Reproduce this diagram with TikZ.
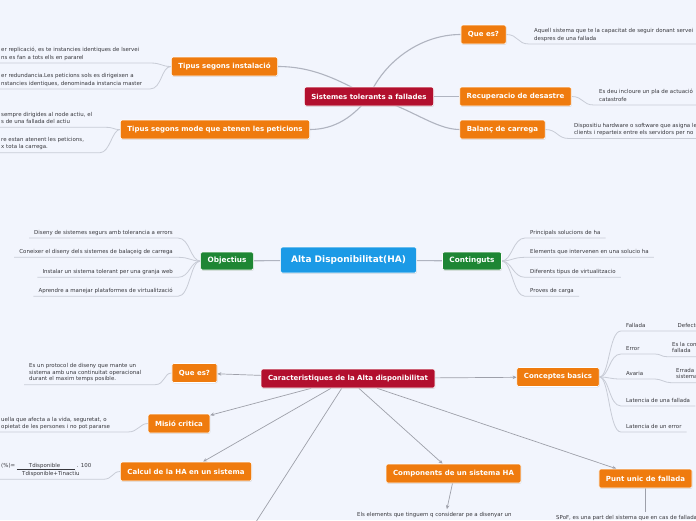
\documentclass[tikz,border=0pt]{standalone}
\usepackage{fontspec}
\setmainfont{DejaVu Sans}
\usepackage{tikz}
\usetikzlibrary{positioning,arrows.meta,backgrounds,shadows}
\definecolor{pagebg}{RGB}{242,245,253}
\definecolor{orangeb}{RGB}{239,123,14}
\definecolor{crimson}{RGB}{178,15,46}
\definecolor{skyb}{RGB}{27,154,230}
\definecolor{greenb}{RGB}{30,134,52}
\definecolor{branchgray}{RGB}{176,180,192}
\definecolor{twiggray}{RGB}{200,204,214}
\definecolor{linkgray}{RGB}{158,160,170}
\definecolor{leaftext}{RGB}{55,55,60}

\tikzset{
  topic/.style={rounded corners=2pt, draw=white, line width=0.6pt, text=white,
    font=\fontsize{7}{8}\selectfont\bfseries, inner xsep=7pt, minimum height=19pt,
    drop shadow={shadow xshift=0.5pt, shadow yshift=-0.8pt, opacity=0.25}},
  orangebox/.style={topic, fill=orangeb},
  redbox/.style={topic, fill=crimson},
  greenbox/.style={topic, fill=greenb, minimum height=18pt,
    font=\fontsize{7.3}{8}\selectfont\bfseries},
  bluebox/.style={topic, fill=skyb, minimum height=26pt, inner xsep=10.5pt,
    font=\fontsize{9}{10}\selectfont\bfseries},
  leaf/.style={font=\fontsize{5.45}{6.5}\selectfont, text=leaftext, align=left,
    inner xsep=5pt, inner ysep=2.5pt, text depth=1.2pt},
  leafwide/.style={leaf, font=\fontsize{5.45}{7.3}\selectfont},
  branch/.style={draw=branchgray, line width=1.1pt},
  twig/.style={draw=twiggray, line width=0.8pt},
  link/.style={draw=linkgray, line width=0.7pt, -{Stealth[length=4pt,width=3.5pt]}},
}

\begin{document}
\begin{tikzpicture}[x=1pt,y=-1pt]
  \useasboundingbox (0,0) rectangle (696,520);
  \begin{scope}[on background layer]
    \fill[pagebg] (0,0) rectangle (696,520);
  \end{scope}
  \clip (0,0) rectangle (696,520);

  % fault tolerant systems
  \node[redbox] (sis) at (369,96.5) {Sistemes tolerants a fallades};
  \node[orangebox] (inst) at (224.5,66.5) {Tipus segons instalació};
  \node[orangebox] (mode) at (215,129.5) {Tipus segons mode que atenen les peticions};
  \node[orangebox] (quees1) at (483.5,34.5) {Que es?};
  \node[orangebox] (recup) at (515.5,96.5) {Recuperacio de desastre};
  \node[orangebox] (bal) at (502.5,129.5) {Balanç de carrega};

  \node[leafwide, anchor=south west] (t1) at (-4,63) {er replicació, es te instancies identiques de lservei\\ns es fan a tots ells en pararel};
  \node[leafwide, anchor=south west] (t2) at (-4,89) {er redundancia.Les peticions sols es dirigeixen a\\nstancies identiques, denominada instancia master};
  \node[leafwide, anchor=south west] (t3) at (-4,127.3) {sempre dirigides al node actiu, el\\s de una fallada del actiu};
  \node[leafwide, anchor=south west] (t4) at (-4,152.7) {re estan atenent les peticions,\\x tota la carrega.};
  \node[leafwide, anchor=south west] (r1) at (529,44) {Aquell sistema que te la capacitat de seguir donant servei\\despres de una fallada};
  \node[leafwide, anchor=south west] (r2) at (594,105) {Es deu incloure un pla de actuació\\catastrofe};
  \node[leafwide, anchor=south west] (r3) at (569,138.5) {Dispositiu hardware o software que asigna les\\clients i reparteix entre els servidors per no};

  % central topic
  \node[bluebox] (ha) at (348.5,260) {Alta Disponibilitat(HA)};
  \node[greenbox] (obj) at (227,261) {Objectius};
  \node[greenbox] (cont) at (472,261) {Continguts};

  \node[leaf, anchor=south east] (o1) at (178,238) {Diseny de sistemes segurs amb tolerancia a errors};
  \node[leaf, anchor=south east] (o2) at (178,257.3) {Coneixer el diseny dels sistemes de balaçeig de carrega};
  \node[leaf, anchor=south east] (o3) at (178,277.3) {Instalar un sistema tolerant per una granja web};
  \node[leaf, anchor=south east] (o4) at (178,296.3) {Aprendre a manejar plataformes de virtualització};
  \node[leaf, anchor=south west] (c1) at (525,238) {Principals solucions de ha};
  \node[leaf, anchor=south west] (c2) at (525,257.3) {Elements que intervenen en una solucio ha};
  \node[leaf, anchor=south west] (c3) at (525,277.3) {Diferents tipus de virtualitzacio};
  \node[leaf, anchor=south west] (c4) at (525,296.3) {Proves de carga};

  % characteristics
  \node[redbox] (car) at (348,378.5) {Caracteristiques de la Alta disponibilitat};
  \node[orangebox] (quees2) at (194.5,373) {Que es?};
  \node[orangebox] (misio) at (179,423.5) {Misió critica};
  \node[orangebox] (calc) at (186,471.5) {Calcul de la HA en un sistema};
  \node[orangebox] (conc) at (558,377) {Conceptes basics};
  \node[orangebox] (comp) at (453.5,473.5) {Components de un sistema HA};
  \node[orangebox] (punt) at (645.5,478.5) {Punt unic de fallada};
  \coordinate (down) at (231.5,560);

  \node[leaf, anchor=south west] (q2t) at (24,384.7) {Es un protocol de diseny que mante un\\sistema amb una continuitat operacional\\durant el maxim temps posible.};
  \node[leaf, anchor=south west] (mct) at (-4,432) {uella que afecta a la vida, seguretat, o\\opietat de les persones i no pot pararse};
  \node[leaf, anchor=south west] (calt) at (-4,479.3) {(\%)= \underline{\hspace{12pt}Tdisponible\hspace{15pt}} . 100\\\hspace{21pt}Tdisponible+Tinactiu};
  \node[leaf, anchor=base west] (compt) at (352,516) {Els elements que tinguem q considerar pe a disenyar un};
  \node[leaf, anchor=base west] (puntt) at (551,519) {SPoF, es una part del sistema que en cas de fallada};

  \node[leaf, anchor=south west] (k1) at (621,331) {Fallada};
  \node[leaf, anchor=south west] (k1b) at (672.5,331) {Defecte};
  \node[leaf, anchor=south west] (k2) at (621,354) {Error};
  \node[leaf, anchor=south west] (k2b) at (667,356.7) {Es la con\\fallada};
  \node[leaf, anchor=south west] (k3) at (621,379) {Avaria};
  \node[leaf, anchor=south west] (k3b) at (671,382.7) {Errada -\\sistema};
  \node[leaf, anchor=south west] (k4) at (621,406) {Latencia de una fallada};
  \node[leaf, anchor=south west] (k5) at (621,432) {Latencia de un error};

  \begin{scope}[on background layer]
    \clip (0,0) rectangle (696,520);
    \draw[branch] (inst.east) .. controls +(32,0) and +(-34,-19) .. (sis.center);
    \draw[branch] (mode.east) .. controls +(25,0) and +(-15,20) .. (sis.center);
    \draw[branch] (sis.center) .. controls +(15,-35) and +(-40,0) .. (quees1.west);
    \draw[branch] (sis) -- (recup);
    \draw[branch] (sis.center) .. controls +(40,10) and +(-25,0) .. (bal.west);

    \draw[twig] (t1.south west) -- ++(154,0) .. controls +(12,0) and +(-10,0) .. (inst.west);
    \draw[twig] (t2.south west) -- ++(154,0) .. controls +(12,0) and +(-10,0) .. (inst.west);
    \draw[twig] (t3.south west) -- ++(109,0) .. controls +(10,0) and +(-8,0) .. (mode.west);
    \draw[twig] (t4.south west) -- ++(104,0) .. controls +(10,0) and +(-8,0) .. (mode.west);
    \draw[twig] (quees1.east) .. controls +(12,0) and +(-12,0) .. (r1.south west) -- ++(170,0);
    \draw[twig] (recup.east) .. controls +(12,0) and +(-12,0) .. (r2.south west) -- ++(110,0);
    \draw[twig] (bal.east) .. controls +(12,0) and +(-12,0) .. (r3.south west) -- ++(130,0);

    \draw[branch] (obj) -- (ha);
    \draw[branch] (ha) -- (cont);
    \foreach \n in {o1,o2,o3,o4}
      \draw[twig] (\n.south west) -- (\n.south east) .. controls +(12,0) and +(-10,0) .. (obj.west);
    \foreach \n in {c1,c2,c3,c4}
      \draw[twig] (cont.east) .. controls +(10,0) and +(-12,0) .. (\n.south west) -- (\n.south east);

    \foreach \n in {quees2,misio,calc,comp,punt,conc}
      \draw[link] (car) -- (\n);
    \draw[draw=linkgray, line width=0.7pt] (car) -- (down);
    \draw[link] ([xshift=-1pt]comp.south) -- ([xshift=12.5pt]compt.north);
    \draw[draw=linkgray, line width=0.6pt] (punt.south) -- (punt.south |- puntt.north);

    \draw[twig] (q2t.south west) -- ++(131,0) .. controls +(10,0) and +(-8,0) .. (quees2.west);
    \draw[twig] (mct.south west) -- ++(132,0) .. controls +(10,0) and +(-8,0) .. (misio.west);
    \draw[twig] (calt.south west) -- ++(107,0) .. controls +(10,0) and +(-8,0) .. (calc.west);

    \draw[twig] (conc.east) .. controls +(10,0) and +(-12,0) .. (k1.south west) -- ++(80,0);
    \draw[twig] (conc.east) .. controls +(10,0) and +(-12,0) .. (k2.south west) -- ++(34,0)
      .. controls +(6,0) and +(-6,0) .. (k2b.south west) -- ++(40,0);
    \draw[twig] (conc.east) .. controls +(10,0) and +(-12,0) .. (k3.south west) -- ++(34,0)
      .. controls +(6,0) and +(-6,0) .. (k3b.south west) -- ++(40,0);
    \draw[twig] (conc.east) .. controls +(10,0) and +(-12,0) .. (k4.south west) -- (k4.south east);
    \draw[twig] (conc.east) .. controls +(10,0) and +(-12,0) .. (k5.south west) -- (k5.south east);
  \end{scope}
\end{tikzpicture}
\end{document}
